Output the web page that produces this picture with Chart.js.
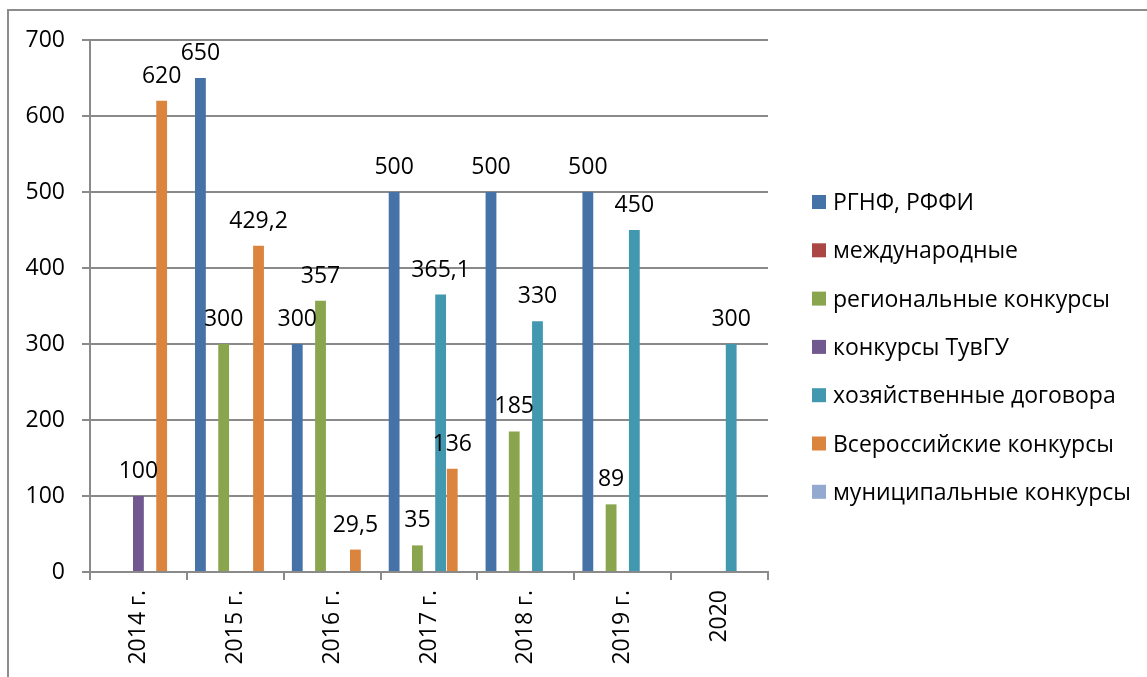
<!DOCTYPE html>
<html><head><meta charset="utf-8">
<script src="https://cdn.jsdelivr.net/npm/chart.js@4/dist/chart.umd.min.js"></script>
<style>
html,body{margin:0;padding:0;background:#fff;overflow:hidden}
#wrap{position:relative;width:1147px;height:677px}
#frame{position:absolute;left:7px;top:9px;width:1300px;height:900px;border-left:2px solid #8c8c8c;border-top:2px solid #8c8c8c;box-sizing:border-box}
#c{position:absolute;left:0;top:0}
</style></head><body>
<div id="wrap"><div id="frame"></div><canvas id="c" width="1147" height="677"></canvas></div>
<script>
const categories = ['2014 г.', '2015 г.', '2016 г.', '2017 г.', '2018 г.', '2019 г.', '2020'];
const rgnfRffi    = [null, 650, 300, 500, 500, 500, null];
const international = [null, null, null, null, null, null, null];
const regional    = [null, 300, 357, 35, 185, 89, null];
const tuvgu       = [100, null, null, null, null, null, null];
const contracts   = [null, null, null, 365.1, 330, 450, 300];
const allRussian  = [620, 429.2, 29.5, 136, null, null, null];
const municipal   = [null, null, null, null, null, null, null];
const seriesNames = ['РГНФ, РФФИ', 'международные', 'региональные конкурсы', 'конкурсы ТувГУ', 'хозяйственные договора', 'Всероссийские конкурсы', 'муниципальные конкурсы'];
const seriesData = [rgnfRffi, international, regional, tuvgu, contracts, allRussian, municipal];
const seriesColors = ['#4572A7', '#AA4643', '#89A54E', '#71588F', '#4198AF', '#DB843D', '#93A9CF'];
const yMin = 0, yMax = 700, yStep = 100;

const FONT = "'Open Sans', sans-serif";
const FS = 23;
const fmt = v => String(v).replace('.', ',');

const valueLabels = {
  id: 'valueLabels',
  afterDatasetsDraw(chart) {
    const ctx = chart.ctx;
    ctx.save();
    ctx.font = FS + "px " + FONT;
    ctx.fillStyle = '#000';
    ctx.textAlign = 'center';
    ctx.textBaseline = 'alphabetic';
    chart.data.datasets.forEach((ds, i) => {
      const meta = chart.getDatasetMeta(i);
      meta.data.forEach((bar, j) => {
        const v = ds.data[j];
        if (v == null) return;
        ctx.fillText(fmt(v), bar.x, bar.y - 18);
      });
    });
    ctx.restore();
  }
};

const sideLegend = {
  id: 'sideLegend',
  afterDraw(chart) {
    const ctx = chart.ctx;
    const left = chart.chartArea.right + 44;
    const top = 202, step = 48.3, box = 14;
    ctx.save();
    ctx.font = FS + "px " + FONT;
    ctx.textAlign = 'left';
    ctx.textBaseline = 'alphabetic';
    chart.data.datasets.forEach((ds, i) => {
      const cy = top + i * step;
      ctx.fillStyle = ds.backgroundColor;
      ctx.fillRect(left, cy - box / 2, box, box);
      ctx.fillStyle = '#000';
      ctx.fillText(ds.label, left + box + 7, cy + 8);
    });
    ctx.restore();
  }
};

new Chart(document.getElementById('c'), {
  type: 'bar',
  data: {
    labels: categories,
    datasets: seriesNames.map((n, i) => ({
      label: n,
      data: seriesData[i],
      backgroundColor: seriesColors[i],
      borderWidth: 0,
      barPercentage: 0.93,
      categoryPercentage: 0.84
    }))
  },
  options: {
    responsive: false,
    animation: false,
    layout: { padding: { top: 40, left: 0, right: 379, bottom: 0 } },
    plugins: {
      legend: { display: false },
      tooltip: { enabled: false }
    },
    scales: {
      x: {
        grid: { drawOnChartArea: false, color: '#8a8a8a', lineWidth: 2, tickLength: 8, offset: true },
        border: { color: '#8a8a8a', width: 2 },
        ticks: { color: '#000', font: { family: FONT, size: FS }, minRotation: 90, maxRotation: 90, padding: 10 },
        afterFit: s => { s.height = 105; }
      },
      y: {
        min: yMin, max: yMax,
        grid: { color: '#8a8a8a', lineWidth: 2, tickLength: 8 },
        border: { color: '#8a8a8a', width: 2 },
        ticks: { stepSize: yStep, color: '#000', font: { family: FONT, size: FS }, padding: 17 },
        afterFit: s => { s.width = 90; }
      }
    }
  },
  plugins: [valueLabels, sideLegend]
});
</script>
</body></html>
